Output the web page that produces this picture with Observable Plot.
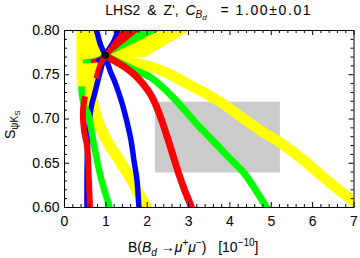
<!DOCTYPE html>
<html><head><meta charset="utf-8">
<script src="https://cdn.jsdelivr.net/npm/d3@7"></script>
<script src="https://cdn.jsdelivr.net/npm/@observablehq/plot@0.6"></script>
<style>
body{margin:0;background:#fff;font-family:"Liberation Sans",Arial,sans-serif;}
#title{width:360px;height:20px;line-height:20px;font-size:14px;text-align:center;padding-left:64px;padding-right:6.5px;box-sizing:border-box;white-space:nowrap;color:#000;word-spacing:3px;}
.s1{position:relative;top:3px;font-size:10px;}
.s2{position:relative;top:2px;font-size:8px;}
.num{letter-spacing:1.6px;}
</style></head><body>
<div id="title">LHS2 &amp; Z', <i>C</i><span class="s1"><i>B</i><span class="s2"><i>d</i></span></span>&nbsp; = <span class="num">1.00±0.01</span></div>
<div id="chart"></div>
<script>
// ---- data ----
const xTicks = [0,1,2,3,4,5,6,7];
const yTicks = [0.60,0.65,0.70,0.75,0.80];
const smX = [0.985];
const smY = [0.772];
const boxX = [2.2, 5.22];
const boxY = [0.639, 0.719];

const blue1X = [0.72,0.774,0.870,0.984,1.100,1.233,1.390,1.499,1.608,1.680,1.753,1.801,1.825];
const blue1Y = [0.806,0.800,0.784,0.772,0.755,0.740,0.718,0.699,0.676,0.653,0.631,0.600,0.591];
const blue2X = [1.330,1.294,1.185,0.984,0.895,0.810,0.737,0.653,0.592,0.556,0.544,0.544,0.544];
const blue2Y = [0.806,0.800,0.787,0.772,0.759,0.744,0.730,0.715,0.693,0.665,0.631,0.600,0.591];

const redUpX = [0.96,1.487,1.951,1.00];
const redUpY = [0.773,0.806,0.806,0.770];
const redLowX = [0.984,1.233,1.475,1.717,1.910,2.079,2.224,2.369,2.563,2.756,2.901,3.071,3.119];
const redLowY = [0.772,0.765,0.758,0.749,0.739,0.728,0.714,0.696,0.668,0.639,0.620,0.600,0.591];
const redLeftX = [0.496,0.447,0.471,0.549,0.585,0.617,0.621];
const redLeftY = [0.7256,0.710,0.687,0.668,0.636,0.600,0.591];

const greenUpX = [0.97,1.980,2.534,1.00];
const greenUpY = [0.774,0.806,0.806,0.771];
const greenLowX = [0.984,1.354,1.717,2.079,2.394,2.732,3.167,3.578,3.965,4.340,4.618,4.884,4.981];
const greenLowY = [0.772,0.763,0.755,0.747,0.735,0.719,0.696,0.676,0.657,0.639,0.620,0.600,0.591];
const greenLeftX = [0.411,0.423,0.471,0.580,0.653,0.725,0.883,1.088,1.124];
const greenLeftY = [0.737,0.727,0.7165,0.704,0.687,0.668,0.633,0.600,0.591];

const yellowBlobX = [0.307,0.713,0.798,0.883,0.984,0.895,0.774,0.725,0.725,0.580,0.387,0.314];
const yellowBlobY = [0.806,0.806,0.794,0.783,0.772,0.764,0.755,0.744,0.732,0.730,0.735,0.738];
const yellowFanX = [0.984,2.621,3.228,1.958,1.354];
const yellowFanY = [0.772,0.806,0.806,0.7707,0.7695];
const yellowLeftX = [0.629,0.653,0.725,0.846,0.991,1.136,1.354,1.596,1.789,1.983,2.079];
const yellowLeftY = [0.7436,0.7267,0.7098,0.6928,0.6782,0.6669,0.6511,0.6330,0.6161,0.6003,0.5913];
const yellowLowX = [0.984,1.354,1.717,2.079,2.442,2.805,3.288,3.772,4.255,4.739,5.222,5.706,6.117,6.552,6.987,7.157];
const yellowLowY = [0.772,0.767,0.763,0.759,0.753,0.744,0.732,0.719,0.703,0.687,0.673,0.656,0.640,0.623,0.607,0.602];

const greenTipX = [0.984,0.75,0.44];
const greenTipY = [0.772,0.767,0.765];
const redTipX = [0.984,0.85,0.64];
const redTipY = [0.772,0.768,0.765];
const blueTipX = [0.984,0.90,0.77];
const blueTipY = [0.772,0.768,0.765];
const redStubX = [0.984,0.846,0.762];
const redStubY = [0.772,0.7594,0.7459];

// ---- helpers ----
const pts = (xs, ys) => xs.map((x, i) => ({x, y: ys[i]}));
const C = {yellow: "#ffff00", green: "#00ff00", red: "#ff0000", blue: "#0000ff"};
const band = (xs, ys, color, w) => Plot.line(pts(xs, ys), {x: "x", y: "y", stroke: color, strokeWidth: w, curve: "catmull-rom", clip: true, strokeLinecap: "butt"});
const poly = (xs, ys, color) => Plot.line(pts(xs, ys), {x: "x", y: "y", fill: color, stroke: color, strokeWidth: 1, curve: "linear-closed", clip: true});

const mT = 10, mB = 51, mL = 64, mR = 6.5, HT = 238, WD = 360;
const H = HT - mT - mB, W = WD - mL - mR;
const xMinor = d3.range(0, 7.001, 0.2).filter(v => Math.abs(v - Math.round(v)) > 1e-6);
const yMinor = d3.range(0.60, 0.8001, 0.01).filter(v => Math.abs(v * 20 - Math.round(v * 20)) > 1e-6);
const tickMarks = (xs, ys, len) => [
  Plot.ruleX(xs, {x: d => d, insetTop: H - len, stroke: "black", strokeWidth: 1}),
  Plot.ruleX(xs, {x: d => d, insetBottom: H - len, stroke: "black", strokeWidth: 1}),
  Plot.ruleY(ys, {y: d => d, insetRight: W - len, stroke: "black", strokeWidth: 1}),
  Plot.ruleY(ys, {y: d => d, insetLeft: W - len, stroke: "black", strokeWidth: 1})
];

const chart = Plot.plot({
  width: WD, height: HT,
  marginTop: mT, marginBottom: mB, marginLeft: mL, marginRight: mR,
  style: {fontFamily: "'Liberation Sans', Arial, sans-serif", fontSize: "14px", background: "white", color: "black"},
  x: {domain: [0, 7], ticks: xTicks, tickSize: 0, tickPadding: 9, tickFormat: d => String(d), label: null},
  y: {domain: [0.6, 0.8], ticks: yTicks, tickSize: 0, tickPadding: 5, tickFormat: d3.format(".2f"), label: null},
  marks: [
    Plot.rect([{x1: boxX[0], x2: boxX[1], y1: boxY[0], y2: boxY[1]}], {x1: "x1", x2: "x2", y1: "y1", y2: "y2", fill: "#cbcbcb"}),
    poly(yellowBlobX, yellowBlobY, C.yellow),
    poly(yellowFanX, yellowFanY, C.yellow),
    band(yellowLeftX, yellowLeftY, C.yellow, 11),
    band(yellowLowX, yellowLowY, C.yellow, 10.5),
    band(blue1X, blue1Y, C.blue, 5.5),
    band(blue2X, blue2Y, C.blue, 5.5),
    band(greenLeftX, greenLeftY, C.green, 6.5),
    band(redLeftX, redLeftY, C.red, 6),
    poly(greenUpX, greenUpY, C.green),
    band(greenLowX, greenLowY, C.green, 7),
    poly(redUpX, redUpY, C.red),
    band(redLowX, redLowY, C.red, 7),
    band(greenTipX, greenTipY, C.green, 4),
    band(redTipX, redTipY, C.red, 4),
    band(blueTipX, blueTipY, C.blue, 4),
    band(redStubX, redStubY, C.red, 5),
    Plot.dot(pts(smX, smY), {x: "x", y: "y", r: 3.8, fill: "black"}),
    ...tickMarks(xTicks, yTicks, 5),
    ...tickMarks(xMinor, yMinor, 3),
    Plot.frame({stroke: "black", strokeWidth: 1})
  ]
});
document.getElementById("chart").appendChild(chart);

// axis labels with sub/superscripts
const svg = d3.select(chart);
const xl = svg.append("text").attr("x", 128).attr("y", 232).attr("text-anchor", "start")
  .attr("font-size", 14).attr("fill", "black").style("white-space", "pre");
xl.append("tspan").text("B(");
xl.append("tspan").attr("font-style", "italic").text("B");
xl.append("tspan").attr("font-style", "italic").attr("font-size", 10).attr("dy", 4).text("d");
xl.append("tspan").attr("dy", -4).text(" \u2192");
xl.append("tspan").attr("font-style", "italic").text("\u03bc");
xl.append("tspan").attr("font-size", 10).attr("dy", -6).text("+");
xl.append("tspan").attr("font-style", "italic").attr("dy", 6).text("\u03bc");
xl.append("tspan").attr("font-size", 10).attr("dy", -6).text("\u2212");
xl.append("tspan").attr("dy", 6).text(")   [10");
xl.append("tspan").attr("font-size", 10).attr("dy", -6).text("\u221210");
xl.append("tspan").attr("dy", 6).text("]");

const yl = svg.append("text").attr("transform", `translate(15,119) rotate(-90)`)
  .attr("text-anchor", "start").attr("font-size", 14).attr("fill", "black");
yl.append("tspan").text("S");
yl.append("tspan").attr("font-size", 10).attr("dy", 3).text("\u03c8K");
yl.append("tspan").attr("font-size", 8).attr("dy", 2).text("S");
</script></body></html>
